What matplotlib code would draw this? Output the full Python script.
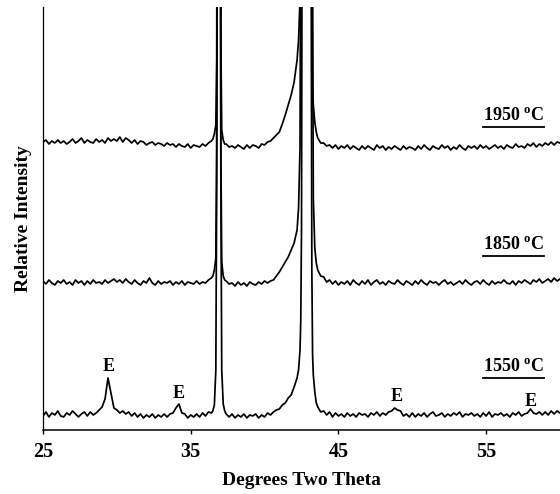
import numpy as np
import matplotlib.pyplot as plt
from matplotlib.lines import Line2D

plt.rcParams['font.family'] = 'Liberation Serif'
plt.rcParams['font.weight'] = 'bold'
plt.rcParams['mathtext.fontset'] = 'custom'
plt.rcParams['mathtext.rm'] = 'Liberation Serif:bold'
plt.rcParams['mathtext.bf'] = 'Liberation Serif:bold'

# 2-theta sampling (baseline every 0.2 deg, denser through the two big peaks)
tth_a = np.round(np.arange(25.0, 36.41, 0.2), 2)
tth_p37 = [36.5, 36.6, 36.7, 36.76, 36.82, 36.9, 36.98, 37.04, 37.1, 37.2, 37.3]
tth_b = np.round(np.arange(37.4, 42.21, 0.2), 2)
tth_p43 = [42.3, 42.4, 42.45, 42.5, 42.55, 42.6, 42.85, 43.1, 43.15, 43.2, 43.25, 43.3, 43.4, 43.5]
tth_c = np.round(np.arange(43.6, 60.01, 0.2), 2)
tth = np.concatenate([tth_a, tth_p37, tth_b, tth_p43, tth_c])

# intensities (arbitrary units, big peaks run off scale)
int_1550 = [
    14, 18, 13, 17, 15, 19, 14, 13, 17, 15, 19, 16, 13, 16, 18, 14, 18, 15, 17, 20,
    23, 31, 52, 37, 22,
    20, 17, 19, 16, 18, 14, 17, 13, 16, 12, 15, 13, 16, 12, 15, 13, 16,
    13, 16, 17, 22, 26, 17, 16, 12, 15, 13, 16, 13, 17, 14, 18, 17,
    19, 25, 60, 250, 900, 1000, 900, 250, 60, 26, 19,
    16, 13, 16, 12, 15, 13, 16, 12, 15, 14, 16, 12, 15, 13, 17, 15, 18, 20, 21, 25,
    27, 32, 35, 43, 52,
    60, 80, 110, 200, 600, 1100, 1200, 1100, 500, 160, 75, 55, 38, 27,
    23, 18, 19, 15, 18, 13, 17, 14, 16, 13, 17, 14, 16, 13, 17, 15, 16, 13, 17, 15,
    18, 14, 17, 15, 18, 19, 22, 20, 19, 14, 16, 13,
    17, 13, 16, 14, 17, 13, 16, 18, 14, 15, 17, 13, 16, 14, 17, 15, 18, 13, 16, 15,
    17, 14, 16, 13, 17, 14, 18, 13, 16, 15, 17, 14, 16, 13, 17, 15, 18, 14, 16, 17,
    21, 17, 16, 18, 15, 18, 15, 19, 16, 19, 17,
]
int_1850 = [
    17, 14, 18, 15, 13, 17, 15, 18, 14, 16, 13, 18, 15, 17, 13, 17, 14, 18, 15, 16,
    14, 18, 15, 17, 19,
    16, 18, 15, 19, 16, 14, 18, 15, 13, 17, 15, 20, 15, 13, 17, 14, 16,
    15, 17, 13, 16, 14, 17, 13, 16, 15, 14, 17, 14, 16, 15, 18, 20,
    22, 28, 40, 150, 800, 1000, 800, 150, 36, 22, 18,
    17, 14, 15, 12, 16, 13, 15, 12, 16, 14, 13, 16, 14, 17, 15, 17, 18, 22, 26, 31,
    36, 41, 48, 55, 68,
    90, 150, 400, 1100, 1200, 1200, 1300, 1200, 1200, 1000, 300, 100, 50, 35,
    28, 22, 21, 16, 18, 14, 17, 13, 16, 14, 17, 13, 18, 15, 13, 17, 14, 18, 13, 16,
    18, 14, 16, 13, 17, 15, 14, 18, 15, 13, 17, 15,
    13, 17, 14, 18, 15, 13, 17, 15, 16, 13, 16, 18, 14, 16, 13, 15, 17, 14, 18, 15,
    13, 16, 17, 14, 18, 15, 13, 17, 14, 16, 15, 18, 15, 14, 17, 13, 17, 15, 18, 16,
    14, 18, 16, 19, 15, 17, 19, 16, 20, 17, 19,
]
int_1950 = [
    18, 20, 16, 19, 17, 20, 17, 19, 16, 18, 21, 17, 19, 22, 17, 20, 18, 17, 21, 18,
    20, 17, 22, 19, 21,
    19, 23, 18, 22, 20, 17, 20, 16, 19, 18, 15, 17, 18, 15, 17, 16, 14,
    17, 15, 16, 13, 16, 14, 13, 16, 12, 15, 14, 13, 16, 14, 17, 19,
    21, 26, 35, 100, 700, 900, 700, 120, 30, 20, 16,
    16, 13, 14, 12, 15, 13, 11, 15, 12, 15, 14, 12, 16, 15, 18, 19, 22, 25, 28, 36,
    45, 55, 65, 78, 100,
    120, 160, 400, 1000, 1100, 1100, 1200, 1100, 1000, 300, 70, 55, 38, 28,
    22, 17, 17, 14, 15, 12, 15, 11, 14, 12, 15, 11, 14, 12, 10, 14, 11, 14, 12, 10,
    15, 12, 14, 10, 13, 11, 14, 12, 10, 14, 11, 13,
    12, 10, 14, 11, 15, 12, 10, 14, 12, 11, 15, 12, 14, 10, 13, 11, 15, 12, 10, 14,
    12, 14, 11, 15, 12, 14, 11, 13, 15, 12, 14, 11, 15, 13, 12, 16, 13, 14, 12, 16,
    14, 17, 13, 16, 14, 17, 15, 18, 15, 18, 17,
]
offsets = [0, 132, 270]
temps = ['1550', '1850', '1950']
temp_label_y = [63, 185, 314]

# impurity peaks (E) on the 1550 pattern
e_tth = [29.45, 34.2, 48.95, 58.0]
e_y = [63, 36, 33, 28]

fig = plt.figure(figsize=(5.6, 4.94), dpi=100)
ax = fig.add_axes([0.0768, 0.1296, 0.9232, 0.8562])

for yy, off in zip([int_1550, int_1850, int_1950], offsets):
    ax.plot(tth, np.array(yy) + off, color='black', lw=1.25)

ax.set_xlim(25, 60)
ax.set_ylim(0, 423)
ax.spines['top'].set_visible(False)
ax.spines['right'].set_visible(False)
ax.spines['left'].set_linewidth(0.9)
ax.spines['bottom'].set_linewidth(1.1)
ax.set_yticks([])
ax.set_xticks([25, 35, 45, 55])
ax.tick_params(axis='x', direction='out', length=3, width=1, labelsize=14.5, pad=6)
ax.set_xlabel('Degrees Two Theta', fontsize=14, fontweight='bold', labelpad=7)
ax.set_ylabel('Relative Intensity', fontsize=14, fontweight='bold', labelpad=8)

for x, y in zip(e_tth, e_y):
    ax.text(x, y, 'E', fontsize=13, fontweight='bold', ha='center', va='center')

labels = []
for t, y in zip(temps, temp_label_y):
    labels.append(ax.text(58.9, y, t + r' $^{\mathbf{o}}$C', fontsize=13,
                          fontweight='bold', ha='right', va='center'))

fig.canvas.draw()
inv = fig.transFigure.inverted()
for txt in labels:
    bb = txt.get_window_extent()
    (x0, y0), (x1, _) = inv.transform([[bb.x0, bb.y0 - 2], [bb.x1, bb.y0]])
    fig.add_artist(Line2D([x0, x1], [y0, y0], color='black', lw=1.3))

fig.savefig('out.png', dpi=100)
